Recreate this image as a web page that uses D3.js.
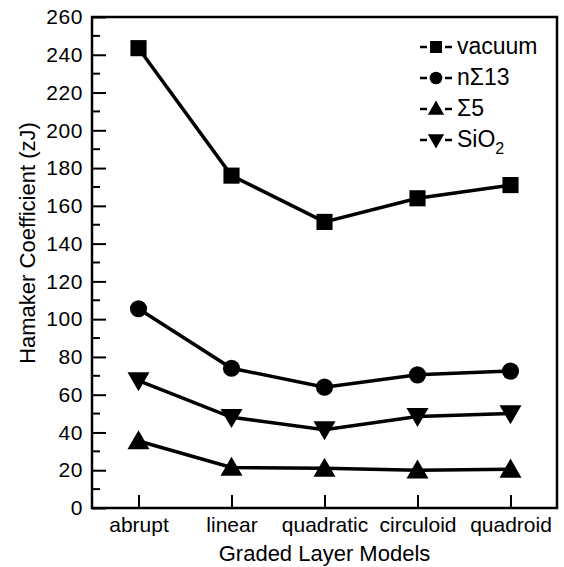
<!DOCTYPE html>
<html>
<head>
<meta charset="utf-8">
<script src="https://cdn.jsdelivr.net/npm/d3@7"></script>
<style>
  body { margin: 0; background: #fff; }
  text { font-family: "Liberation Sans", Arial, sans-serif; fill: #000; }
</style>
</head>
<body>
<div id="chart"></div>
<script>
const models = ["abrupt", "linear", "quadratic", "circuloid", "quadroid"];
const vacuum = [243.5, 176, 151.5, 164, 171];
const nSigma13 = [105.5, 74, 64, 70.5, 72.5];
const sigma5 = [35.5, 21.5, 21, 20, 20.5];
const sio2 = [67.5, 48, 41.5, 48.5, 50];
const yTicks = [0, 20, 40, 60, 80, 100, 120, 140, 160, 180, 200, 220, 240, 260];

const series = [
  { name: "vacuum", values: vacuum, symbol: d3.symbolSquare, size: 260, rot: 0 },
  { name: "nΣ13", values: nSigma13, symbol: d3.symbolCircle, size: 230, rot: 0 },
  { name: "Σ5", values: sigma5, symbol: d3.symbolTriangle, size: 210, rot: 0 },
  { name: "SiO2", values: sio2, symbol: d3.symbolTriangle, size: 210, rot: 180 }
];

const W = 564, H = 567;
const margin = { top: 17, right: 7, bottom: 59, left: 92 };
const width = W - margin.left - margin.right;
const height = H - margin.top - margin.bottom;

const svg = d3.select("#chart").append("svg")
  .attr("width", W).attr("height", H)
  .append("g")
  .attr("transform", `translate(${margin.left},${margin.top})`);

const x = d3.scalePoint().domain(models).range([0, width]).padding(0.5);
const y = d3.scaleLinear().domain([0, 260]).range([height, 0]);

// minor y ticks
svg.append("g")
  .selectAll("line")
  .data(d3.range(10, 260, 20))
  .enter().append("line")
  .attr("x1", 0).attr("x2", 8)
  .attr("y1", d => y(d)).attr("y2", d => y(d))
  .attr("stroke", "#000").attr("stroke-width", 2);

// y axis
const yAxis = svg.append("g")
  .call(d3.axisLeft(y).tickValues(yTicks).tickSizeInner(-14).tickSizeOuter(0).tickPadding(9));
yAxis.select(".domain").remove();
yAxis.selectAll("line").attr("stroke-width", 2);
yAxis.selectAll("text")
  .style("font-size", "21px")
  .style("letter-spacing", "0.6px")
  .style("font-family", "'Liberation Sans', Arial, sans-serif");

// x axis
const xAxis = svg.append("g")
  .attr("transform", `translate(0,${height})`)
  .call(d3.axisBottom(x).tickSizeInner(-13).tickSizeOuter(0).tickPadding(9));
xAxis.select(".domain").remove();
xAxis.selectAll("line").attr("stroke-width", 2);
xAxis.selectAll("text")
  .style("font-size", "21px")
  .style("font-family", "'Liberation Sans', Arial, sans-serif");

// frame
svg.append("rect")
  .attr("x", 0).attr("y", 0)
  .attr("width", width).attr("height", height)
  .attr("fill", "none").attr("stroke", "#000").attr("stroke-width", 2.5);

const line = d3.line()
  .x((d, i) => x(models[i]))
  .y(d => y(d));

series.forEach(s => {
  svg.append("path")
    .datum(s.values)
    .attr("d", line)
    .attr("fill", "none")
    .attr("stroke", "#000")
    .attr("stroke-width", 3.5);

  svg.append("g")
    .selectAll("path")
    .data(s.values)
    .enter().append("path")
    .attr("d", d3.symbol().type(s.symbol).size(s.size))
    .attr("transform", (d, i) => `translate(${x(models[i])},${y(d) + (s.symbol === d3.symbolTriangle ? (s.rot ? -2 : 2) : 0)}) rotate(${s.rot})`)
    .attr("fill", "#000");
});

// legend
const legend = svg.append("g")
  .attr("transform", "translate(344,30)");
series.forEach((s, i) => {
  const g = legend.append("g").attr("transform", `translate(0,${i * 31})`);
  g.append("line").attr("x1", -16).attr("x2", -9).attr("stroke", "#000").attr("stroke-width", 2.5);
  g.append("line").attr("x1", 9).attr("x2", 16).attr("stroke", "#000").attr("stroke-width", 2.5);
  g.append("path")
    .attr("d", d3.symbol().type(s.symbol).size(s.size * 0.55))
    .attr("transform", `translate(0,${s.symbol === d3.symbolTriangle ? (s.rot ? -1 : 1) : 0}) rotate(${s.rot})`)
    .attr("fill", "#000");
  const t = g.append("text")
    .attr("x", 21).attr("y", 7)
    .style("font-size", "23px");
  if (s.name === "SiO2") {
    t.append("tspan").text("SiO");
    t.append("tspan").text("2").attr("dy", 7).style("font-size", "16px");
  } else {
    t.text(s.name);
  }
});

// axis titles
svg.append("text")
  .attr("x", width / 2).attr("y", height + 53)
  .attr("text-anchor", "middle")
  .style("font-size", "22px")
  .text("Graded Layer Models");

svg.append("text")
  .attr("transform", `translate(-57,${243 - margin.top}) rotate(-90)`)
  .attr("text-anchor", "middle")
  .style("font-size", "22px")
  .text("Hamaker Coefficient (zJ)");
</script>
</body>
</html>
